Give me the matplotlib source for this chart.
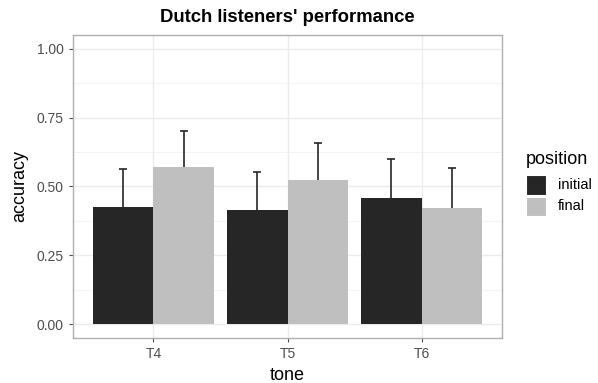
import matplotlib.pyplot as plt
from matplotlib.patches import Rectangle
import numpy as np

plt.rcParams['font.family'] = ['Liberation Sans', 'DejaVu Sans']

tones = ['T4', 'T5', 'T6']
positions = ['initial', 'final']
initial_mean = [0.424, 0.413, 0.459]
initial_upper = [0.564, 0.552, 0.601]
final_mean = [0.572, 0.524, 0.423]
final_upper = [0.702, 0.657, 0.566]
colors = ['#262626', '#bfbfbf']

fig = plt.figure(figsize=(5.98, 3.83), dpi=100)
ax = fig.add_axes([73 / 598, 1 - 338 / 383, 429 / 598, 303 / 383])

x = np.arange(1, len(tones) + 1)
w = 0.45
ax.set_axisbelow(True)

for means, uppers, off, col in [(initial_mean, initial_upper, -w / 2, colors[0]),
                                (final_mean, final_upper, w / 2, colors[1])]:
    err = np.array(uppers) - np.array(means)
    # symmetric bars, lower half hidden behind the bar
    ax.errorbar(x + off, means, yerr=err, fmt='none', ecolor='#262626',
                elinewidth=1.2, capsize=3, capthick=1.2, zorder=2)
    ax.bar(x + off, means, width=w, color=col, zorder=3)

ax.set_xlim(0.4, 3.6)
ax.set_ylim(-0.05, 1.05)
ax.set_xticks(x)
ax.set_xticklabels(tones)
ax.set_yticks([0, 0.25, 0.5, 0.75, 1.0])
ax.set_yticklabels(['0.00', '0.25', '0.50', '0.75', '1.00'])
ax.set_yticks([0.125, 0.375, 0.625, 0.875], minor=True)

ax.grid(True, which='major', color='#ebebeb', linewidth=1.0, zorder=0)
ax.grid(True, which='minor', axis='y', color='#f2f2f2', linewidth=0.6, zorder=0)
ax.tick_params(axis='both', which='major', labelsize=10, labelcolor='#4d4d4d',
               color='#4d4d4d', length=3, width=0.8)
ax.tick_params(axis='both', which='minor', length=0)
for s in ax.spines.values():
    s.set_color('#b0b0b0')
    s.set_linewidth(1.0)

ax.set_xlabel('tone', fontsize=13, labelpad=4)
ax.set_ylabel('accuracy', fontsize=13, labelpad=6)
ax.set_title("Dutch listeners' performance", fontsize=13.3, fontweight='bold', pad=9)

# legend built by hand, ggplot-style
fig.text(526 / 598, 1 - 160 / 383, 'position', fontsize=13, va='center', ha='left')
for i, (lab, col) in enumerate(zip(positions, colors)):
    y0 = 175 + i * 21.5
    fig.patches.append(Rectangle((526 / 598, 1 - (y0 + 19.5) / 383), 20 / 598, 19.5 / 383,
                                 transform=fig.transFigure, facecolor=col, edgecolor='white',
                                 linewidth=0.8))
    fig.text(558 / 598, 1 - (y0 + 10) / 383, lab, fontsize=10.5, va='center', ha='left')

fig.savefig('out.png', dpi=100)
